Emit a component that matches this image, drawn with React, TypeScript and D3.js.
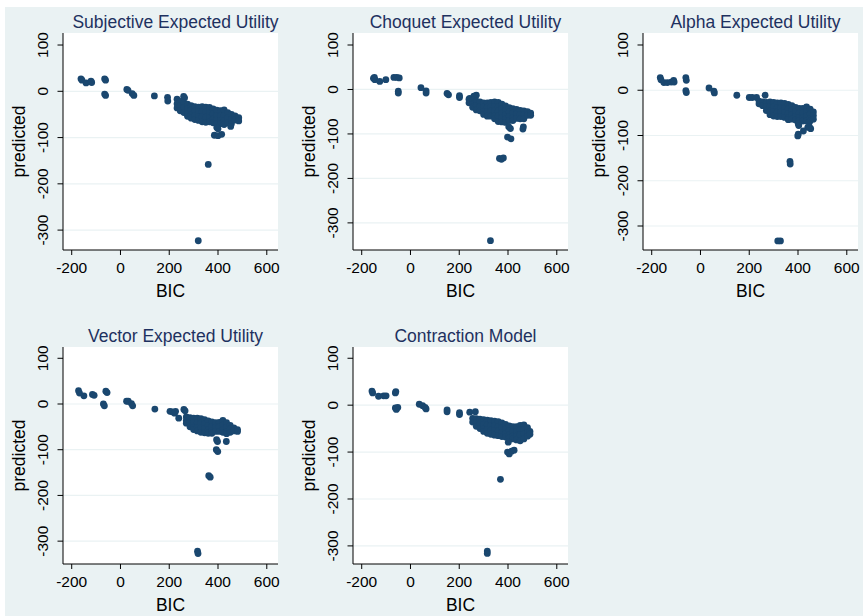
import * as React from 'react'
import * as d3 from 'd3'

// BIC vs predicted, one list per model
const seuPoints: [number, number][] = [
    [-162, 27], [-158, 24], [-141, 18], [-121, 22], [-118, 19], [-65, 27], [-61, 24], [-65, -6], [-61, -9],
    [26, 4], [31, 2], [48, -5], [55, -9], [139, -10], [193, -13], [194, -21], [259, -11], [263, -14],
    [232, -17], [232, -27], [232, -36], [245, -22], [245, -32], [245, -42], [260, -25], [260, -35], [260, -46],
    [275, -28], [275, -38], [275, -49], [275, -54], [290, -31], [290, -41], [290, -51], [290, -58],
    [305, -33], [305, -43], [305, -53], [305, -61], [320, -34], [320, -44], [320, -55], [320, -63],
    [335, -33], [335, -44], [335, -55], [335, -66], [350, -34], [350, -45], [350, -56], [350, -67],
    [365, -35], [365, -46], [365, -57], [365, -66], [380, -38], [380, -49], [380, -60], [380, -68],
    [395, -41], [395, -52], [395, -62], [395, -70], [410, -42], [410, -53], [410, -63], [410, -70],
    [425, -40], [425, -52], [425, -64], [425, -72], [440, -46], [440, -57], [440, -68],
    [455, -50], [455, -60], [455, -70], [470, -53], [470, -62], [485, -57], [485, -64],
    [395, -78], [400, -81], [385, -95], [400, -96], [415, -93], [452, -76], [360, -158], [319, -323],
]

const choquetPoints: [number, number][] = [
    [-152, 25], [-146, 22], [-148, 27], [-126, 18], [-101, 22], [-68, 27], [-56, 27], [-46, 26], [-50, -4], [-50, -8],
    [43, 4], [64, -3], [64, -8], [150, -9], [156, -12], [201, -14], [201, -18], [243, -20], [270, -13], [260, -15],
    [240, -22], [240, -30], [255, -24], [255, -33], [255, -40], [270, -26], [270, -36], [270, -46],
    [285, -28], [285, -38], [285, -48], [300, -30], [300, -40], [300, -50], [300, -56],
    [315, -30], [315, -40], [315, -50], [315, -60], [330, -29], [330, -39], [330, -49], [330, -60],
    [345, -28], [345, -38], [345, -48], [345, -60], [345, -66], [360, -29], [360, -39], [360, -49], [360, -60], [360, -72],
    [375, -33], [375, -43], [375, -53], [375, -63], [375, -73], [390, -37], [390, -47], [390, -57], [390, -67], [390, -74],
    [405, -41], [405, -51], [405, -61], [405, -70], [420, -43], [420, -53], [420, -63], [420, -70],
    [435, -45], [435, -55], [435, -65], [450, -47], [450, -56], [450, -66], [465, -48], [465, -57], [465, -66],
    [480, -50], [480, -58], [493, -53], [493, -58],
    [403, -84], [410, -88], [463, -84], [461, -89], [398, -107], [412, -111], [365, -155], [373, -157], [381, -154], [328, -340],
]

const alphaPoints: [number, number][] = [
    [-165, 28], [-162, 23], [-150, 17], [-136, 17], [-120, 18], [-110, 22], [-108, 18], [-60, 28], [-58, 22], [-60, -1], [-58, -5],
    [35, 5], [55, -2], [57, -6], [149, -11], [200, -16], [212, -16], [230, -16], [265, -11],
    [240, -24], [240, -30], [255, -26], [255, -34], [270, -27], [270, -36], [270, -45],
    [285, -26], [285, -36], [285, -46], [285, -54], [300, -27], [300, -37], [300, -47], [300, -57],
    [315, -28], [315, -38], [315, -48], [315, -58], [330, -28], [330, -38], [330, -48], [330, -58],
    [345, -29], [345, -39], [345, -49], [345, -60], [360, -31], [360, -41], [360, -51], [360, -61], [360, -65],
    [375, -34], [375, -44], [375, -54], [375, -64], [390, -38], [390, -48], [390, -58], [390, -66],
    [405, -40], [405, -50], [405, -60], [405, -67], [420, -40], [420, -50], [420, -60], [420, -68],
    [435, -37], [435, -47], [435, -57], [435, -68], [450, -42], [450, -52], [450, -62], [450, -68],
    [463, -48], [463, -56], [463, -64],
    [401, -74], [403, -78], [440, -82], [452, -85], [446, -80], [422, -90], [401, -97], [399, -101],
    [367, -157], [368, -163], [317, -333], [328, -333],
]

const vectorPoints: [number, number][] = [
    [-172, 29], [-168, 24], [-150, 18], [-115, 21], [-108, 19], [-70, 0], [-66, -4], [-60, 28], [-55, 25],
    [25, 6], [32, 6], [45, 1], [50, -4], [141, -11], [203, -16], [212, -17], [222, -20], [226, -16], [239, -31], [260, -12], [265, -15],
    [270, -28], [270, -36], [270, -42], [285, -30], [285, -40], [285, -50],
    [300, -31], [300, -41], [300, -51], [300, -56], [315, -31], [315, -41], [315, -51], [315, -59],
    [330, -32], [330, -42], [330, -52], [330, -62], [345, -34], [345, -44], [345, -54], [345, -63],
    [360, -37], [360, -47], [360, -57], [360, -64], [375, -39], [375, -49], [375, -59], [375, -64],
    [390, -41], [390, -51], [390, -60], [405, -40], [405, -50], [405, -60],
    [420, -36], [420, -46], [420, -56], [420, -62], [435, -41], [435, -51], [435, -61], [435, -65],
    [450, -47], [450, -55], [450, -62], [465, -52], [465, -59], [480, -56], [480, -60],
    [394, -78], [398, -82], [434, -82], [393, -100], [399, -104], [362, -157], [368, -160], [316, -322], [318, -327],
]

const contractionPoints: [number, number][] = [
    [-158, 30], [-155, 26], [-131, 19], [-110, 20], [-100, 20], [-60, 29], [-62, 26], [-62, -6], [-52, -5], [-58, -9],
    [36, 2], [50, -1], [60, -5], [64, -8], [150, -10], [150, -14], [201, -16], [201, -20], [243, -15], [266, -14],
    [255, -28], [255, -36], [270, -29], [270, -37], [270, -45], [285, -30], [285, -40], [285, -50],
    [300, -31], [300, -41], [300, -51], [300, -56], [315, -32], [315, -42], [315, -52], [315, -60],
    [330, -33], [330, -43], [330, -53], [330, -62], [345, -34], [345, -44], [345, -54], [345, -64],
    [360, -35], [360, -45], [360, -55], [360, -65], [375, -38], [375, -48], [375, -58], [375, -67],
    [390, -41], [390, -51], [390, -61], [390, -68], [405, -44], [405, -54], [405, -64], [405, -70],
    [420, -46], [420, -56], [420, -66], [420, -72], [435, -46], [435, -56], [435, -66], [435, -74],
    [450, -43], [450, -53], [450, -63], [450, -76], [465, -42], [465, -52], [465, -62], [465, -72],
    [480, -48], [480, -58], [480, -66], [490, -56], [490, -62],
    [401, -79], [398, -100], [405, -104], [415, -98], [425, -96], [369, -158], [315, -311], [315, -316],
]

const panelTitles = ['Subjective Expected Utility', 'Choquet Expected Utility', 'Alpha Expected Utility', 'Vector Expected Utility', 'Contraction Model']
const panelData = [seuPoints, choquetPoints, alphaPoints, vectorPoints, contractionPoints]
// y range shown in each panel (bottom, top), as in the picture
const yDomains: [number, number][] = [[-343, 126], [-361, 127], [-353, 126.5], [-350, 124.7], [-338.6, 124]]
const xDomain: [number, number] = [-235.7, 646]
const xTicks = [-200, 0, 200, 400, 600]
const yTicks = [100, 0, -100, -200, -300]
const yGrid = [0, -100, -200, -300]

export default function App() {
    const W = 863
    const H = 616
    const BG = '#eaf2f3'
    const DOT = '#1a476f'
    const FONT = '"Liberation Sans", Arial, Helvetica, sans-serif'
    const PANEL_W = 290
    const PANEL_H = 314
    const LEFT = 63
    const RIGHT = 278
    const TOP = 33
    const BOTTOM = 250

    const xScale = d3.scaleLinear().domain(xDomain).range([LEFT, RIGHT])

    return <svg width={W} height={H} viewBox={`0 0 ${W} ${H}`} style={{ position: 'absolute', left: 0, top: 0 }} fontFamily={FONT}>
        <rect x={0} y={0} width={W} height={H} fill="#ffffff" />
        <rect x={5} y={7} width={W - 5} height={H - 7} fill={BG} />
        {
            panelData.map((points, i) => {
                const col = i % 3
                const row = Math.floor(i / 3)
                const yScale = d3.scaleLinear().domain(yDomains[i]).range([BOTTOM, TOP])
                return <g key={i} transform={`translate(${col * PANEL_W} ${row * PANEL_H})`}>
                    <rect x={LEFT} y={TOP} width={RIGHT - LEFT} height={BOTTOM - TOP} fill="#ffffff" />
                    {yGrid.map(t =>
                        <line key={t} x1={LEFT} x2={RIGHT} y1={yScale(t)} y2={yScale(t)} stroke={BG} strokeWidth={1.2} />
                    )}
                    {points.map((p, j) =>
                        <circle key={j} cx={xScale(p[0])} cy={yScale(p[1])} r={3.4} fill={DOT} />
                    )}
                    <line x1={LEFT} x2={LEFT} y1={TOP} y2={BOTTOM} stroke="#000" strokeWidth={1} />
                    <line x1={LEFT} x2={RIGHT} y1={BOTTOM} y2={BOTTOM} stroke="#000" strokeWidth={1} />
                    {yTicks.map(t =>
                        <g key={t}>
                            <line x1={LEFT - 5.5} x2={LEFT} y1={yScale(t)} y2={yScale(t)} stroke="#000" strokeWidth={1} />
                            <text transform={`translate(48 ${yScale(t)}) rotate(-90)`} textAnchor="middle" fontSize={15.5} fill="#000">{t}</text>
                        </g>
                    )}
                    {xTicks.map(t =>
                        <g key={t}>
                            <line x1={xScale(t)} x2={xScale(t)} y1={BOTTOM} y2={BOTTOM + 5} stroke="#000" strokeWidth={1} />
                            <text x={xScale(t)} y={273} textAnchor="middle" fontSize={15.5} fill="#000">{t}</text>
                        </g>
                    )}
                    <text x={(LEFT + RIGHT) / 2} y={297} textAnchor="middle" fontSize={17.5} fill="#000">BIC</text>
                    <text transform={`translate(24.5 ${(TOP + BOTTOM) / 2}) rotate(-90)`} textAnchor="middle" fontSize={17.5} fill="#000">predicted</text>
                    <text x={(LEFT + RIGHT) / 2 + 5} y={27.5} textAnchor="middle" fontSize={17.5} fill="#1e3160">{panelTitles[i]}</text>
                </g>
            })
        }
    </svg>
}
